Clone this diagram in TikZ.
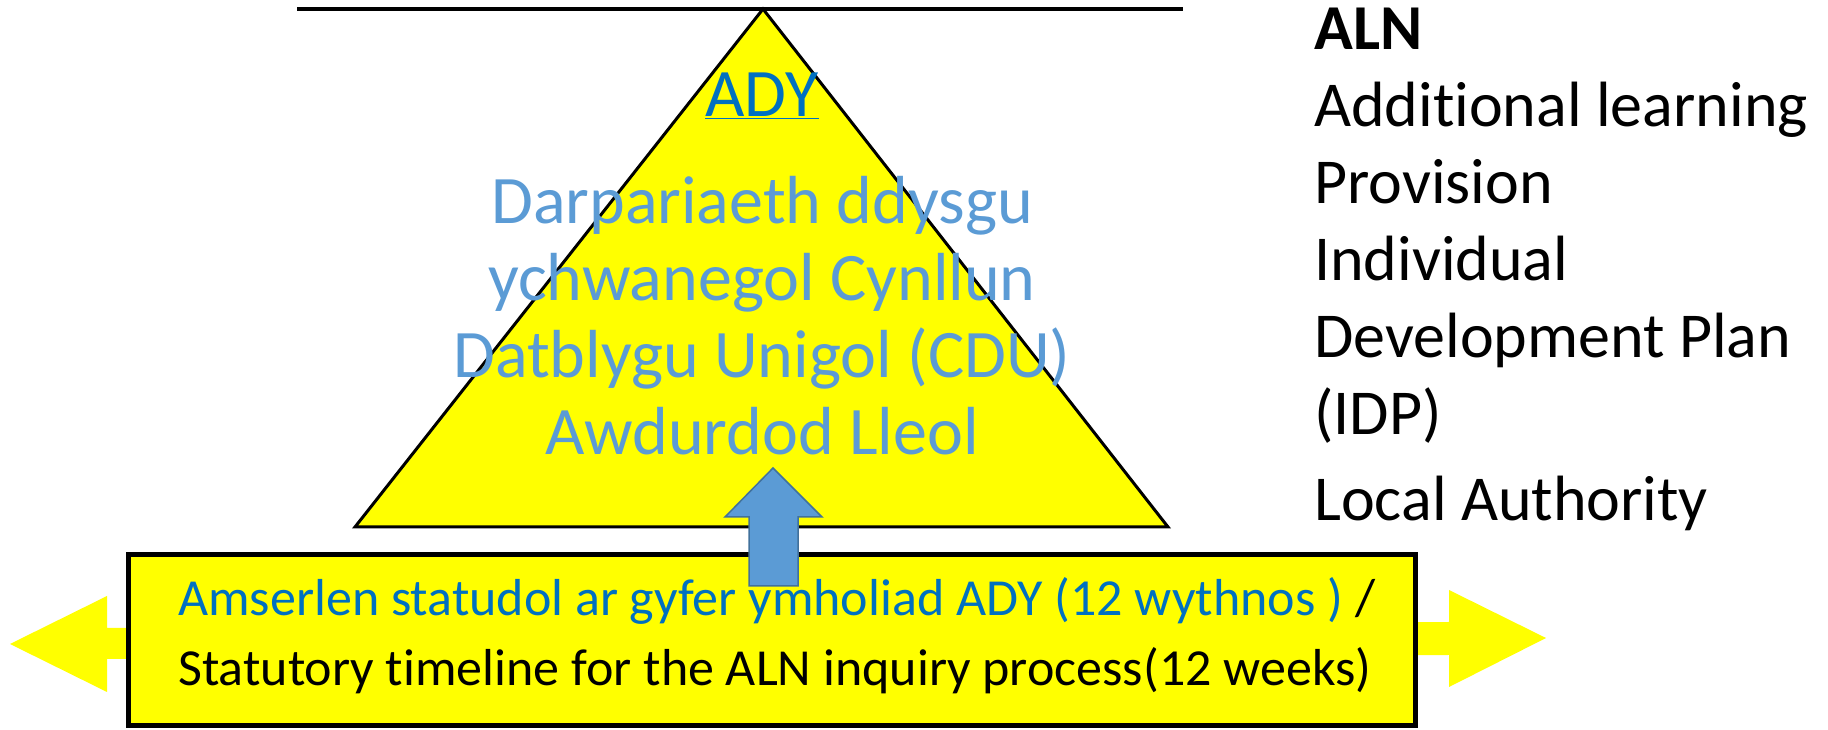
\documentclass[tikz,border=0pt]{standalone}
\usepackage{fontspec}
\setmainfont{Carlito}[Ligatures=NoCommon]
\usetikzlibrary{positioning}
\definecolor{cYellow}{RGB}{255,255,0}
\definecolor{cAdy}{RGB}{0,112,192}
\definecolor{cLight}{RGB}{91,155,213}
\definecolor{cEdge}{RGB}{65,113,156}
\tikzset{
  basetext/.style={inner sep=0pt, align=center},
  adytext/.style={basetext, text=cAdy, font=\fontsize{68}{77}\selectfont},
  lighttext/.style={basetext, text=cLight, font=\fontsize{68}{77}\selectfont},
  keytext/.style={inner sep=0pt, align=left, font=\fontsize{64}{77}\selectfont},
  boxtext/.style={inner sep=0pt, align=left, font=\fontsize{52}{70}\selectfont},
  pyramid/.style={fill=cYellow, draw=black, line width=3pt, line join=miter},
  timebox/.style={fill=cYellow, draw=black, line width=5pt},
  sidearrow/.style={fill=cYellow, draw=none},
  uparrow/.style={fill=cLight, draw=cEdge, line width=1.5pt}
}

\begin{document}
\begin{tikzpicture}[x=1pt, y=1pt]

  \useasboundingbox (0,0) rectangle (1828,730);

  % ── top rule and pyramid ──
  \draw[line width=4.5pt] (297,721) -- (1183,721);
  \coordinate (apex) at (763,721);
  \coordinate (baseL) at (355,203);
  \coordinate (baseR) at (1168,203);
  \draw[pyramid] (apex) -- (baseR) -- (baseL) -- cycle;

  \node[adytext, anchor=base] (ady) at (762,613) {\underline{ADY}};
  \node[lighttext, anchor=base] (dary) at (762,275)
      {Darpariaeth ddysgu\\ychwanegol Cynllun\\Datblygu Unigol (CDU)\\Awdurdod Lleol};

  % ── timeline arrow behind the box ──
  \fill[sidearrow] (10,86) -- (107,134) -- (107,102) -- (1449,108) -- (1449,140)
      -- (1546,92) -- (1449,43) -- (1449,75) -- (107,71) -- (107,38) -- cycle;

  \draw[timebox] (128.5,4.5) rectangle (1415.5,175);
  \node[boxtext, anchor=base west] (timeline) at (178,44)
      {{\color{cAdy}Amserlen statudol ar gyfer ymholiad ADY (12 wythnos )} /\\
       Statutory timeline for the ALN inquiry process(12 weeks)};

  % ── block arrow from box into pyramid ──
  \draw[uparrow] (749,144) -- (749,213) -- (725,213) -- (773,262)
      -- (822,213) -- (798,213) -- (798,144) -- cycle;

  % ── key on the right ──
  \node[keytext, anchor=base west] (key) at (1314,209)
      {\textbf{ALN}\\Additional learning\\Provision\\Individual\\
       Development Plan\\(IDP)\\[9pt]Local Authority};

\end{tikzpicture}
\end{document}
